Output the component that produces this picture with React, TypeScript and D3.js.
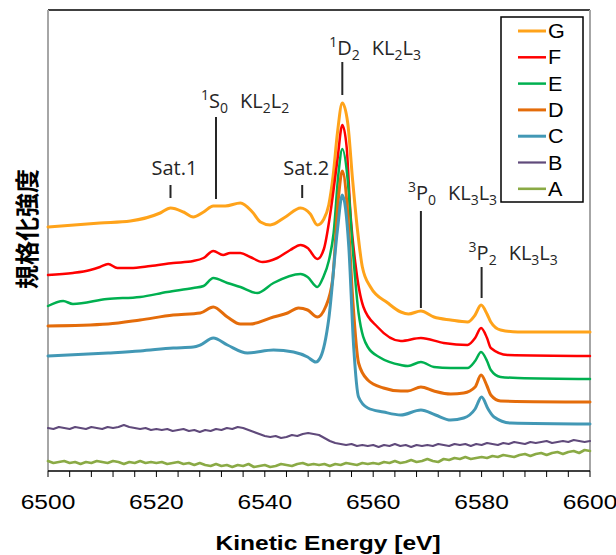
import React from 'react';
import * as d3 from 'd3';

// spectra (energy in eV, normalised intensity, offset per sample)
const seriesG: [number, number][] = [
  [6500, 2.44], [6509.6, 2.48], [6515.2, 2.5], [6520.7, 2.58], [6522.6, 2.63], [6525.0, 2.59],
  [6526.8, 2.54], [6528.7, 2.59], [6530.5, 2.65], [6532.7, 2.65], [6535.5, 2.68], [6537.7, 2.59],
  [6539.2, 2.49], [6541.0, 2.46], [6543.8, 2.54], [6546.6, 2.63], [6548.4, 2.57], [6549.7, 2.46],
  [6550.9, 2.52], [6551.8, 2.66], [6552.6, 2.95], [6553.4, 3.38], [6554.3, 3.68], [6555.3, 3.48],
  [6556.2, 2.91], [6557.1, 2.41], [6558.0, 2.04], [6559.5, 1.84], [6562.7, 1.68], [6565.1, 1.59],
  [6566.5, 1.57], [6568.8, 1.6], [6571.2, 1.54], [6574.3, 1.51], [6577.4, 1.49], [6578.8, 1.56],
  [6579.9, 1.66], [6581.0, 1.57], [6581.7, 1.49], [6583.5, 1.41], [6586.7, 1.39], [6600, 1.39],
];

const seriesF: [number, number][] = [
  [6500, 1.96], [6504.6, 1.98], [6507.8, 2.01], [6509.6, 2.04], [6511.1, 2.07], [6512.8, 2.03],
  [6515.2, 2.03], [6518.9, 2.05], [6523.1, 2.08], [6526.8, 2.1], [6528.7, 2.13], [6530.5, 2.2],
  [6532.3, 2.16], [6533.6, 2.18], [6535.5, 2.18], [6537.3, 2.14], [6539.6, 2.09], [6542.3, 2.13],
  [6544.7, 2.21], [6546.6, 2.26], [6547.9, 2.23], [6549.7, 2.12], [6550.9, 2.22], [6552.1, 2.58],
  [6553.4, 3.11], [6554.3, 3.46], [6555.1, 3.24], [6555.8, 2.58], [6556.7, 2.08], [6558.2, 1.64],
  [6560.8, 1.44], [6565.1, 1.3], [6568.8, 1.33], [6573.0, 1.28], [6577.4, 1.26], [6578.8, 1.33],
  [6579.9, 1.43], [6581.0, 1.33], [6581.7, 1.23], [6584.8, 1.16], [6600, 1.15],
];

const seriesE: [number, number][] = [
  [6500, 1.65], [6502.8, 1.7], [6504.6, 1.67], [6510.9, 1.72], [6517.0, 1.74], [6522.0, 1.79],
  [6526.8, 1.83], [6528.7, 1.85], [6530.5, 1.93], [6533.1, 1.88], [6535.5, 1.84], [6538.6, 1.78],
  [6541.6, 1.88], [6546.6, 1.97], [6547.9, 1.94], [6549.7, 1.84], [6550.8, 1.94], [6551.8, 2.1],
  [6552.7, 2.38], [6553.6, 2.98], [6554.3, 3.22], [6555.3, 2.91], [6556.2, 2.24], [6557.3, 1.58],
  [6559.0, 1.24], [6561.4, 1.13], [6565.1, 1.06], [6566.4, 1.05], [6568.8, 1.09], [6571.2, 1.04],
  [6574.3, 1.03], [6577.4, 1.03], [6578.8, 1.1], [6579.9, 1.19], [6581.0, 1.1], [6581.7, 1.01],
  [6583.5, 0.94], [6586.7, 0.93], [6600, 0.92],
];

const seriesD: [number, number][] = [
  [6500, 1.45], [6511.1, 1.47], [6517.0, 1.51], [6523.1, 1.56], [6528.1, 1.58], [6530.5, 1.64],
  [6533.1, 1.54], [6535.5, 1.47], [6537.3, 1.47], [6541.6, 1.54], [6544.2, 1.58], [6546.2, 1.63],
  [6547.9, 1.61], [6549.7, 1.54], [6551.2, 1.64], [6552.5, 1.91], [6553.6, 2.74], [6554.3, 3.0],
  [6555.3, 2.58], [6556.2, 1.74], [6557.3, 1.08], [6559.0, 0.91], [6561.9, 0.83], [6565.1, 0.8],
  [6566.4, 0.8], [6568.8, 0.84], [6571.2, 0.8], [6574.3, 0.77], [6576.7, 0.78], [6578.8, 0.84],
  [6579.9, 0.96], [6581.0, 0.85], [6581.7, 0.76], [6583.5, 0.7], [6600, 0.69],
];

const seriesC: [number, number][] = [
  [6500, 1.15], [6511.1, 1.18], [6517.0, 1.2], [6523.1, 1.23], [6526.8, 1.24], [6528.1, 1.26],
  [6530.5, 1.33], [6533.1, 1.26], [6536.8, 1.18], [6541.6, 1.21], [6545.3, 1.19], [6547.9, 1.14],
  [6549.4, 1.09], [6550.3, 1.14], [6551.8, 1.52], [6553.4, 2.41], [6554.3, 2.76], [6555.5, 2.24],
  [6556.4, 1.24], [6557.3, 0.74], [6559.0, 0.63], [6561.9, 0.59], [6565.1, 0.56], [6568.8, 0.61],
  [6571.5, 0.56], [6574.3, 0.51], [6576.7, 0.53], [6578.8, 0.62], [6580.0, 0.74], [6581.2, 0.62],
  [6582.3, 0.54], [6585.4, 0.48], [6600, 0.47],
];

// B and A are noisy: one reading per eV from 6500 to 6600
const valuesB = [
  0.43, 0.42, 0.44, 0.43, 0.42, 0.44, 0.43, 0.42, 0.44, 0.43,
  0.42, 0.44, 0.43, 0.44, 0.46, 0.44, 0.43, 0.42, 0.43, 0.41,
  0.42, 0.41, 0.42, 0.4, 0.41, 0.42, 0.4, 0.41, 0.39, 0.41,
  0.4, 0.42, 0.41, 0.43, 0.42, 0.44, 0.43, 0.41, 0.39, 0.37,
  0.35, 0.34, 0.35, 0.33, 0.34, 0.36, 0.35, 0.37, 0.38, 0.37,
  0.36, 0.33, 0.3, 0.28, 0.27, 0.26, 0.27, 0.25, 0.26, 0.25,
  0.26, 0.24, 0.26, 0.25, 0.27, 0.25, 0.26, 0.24, 0.26, 0.25,
  0.26, 0.25, 0.27, 0.26, 0.25, 0.27, 0.26, 0.27, 0.25, 0.27,
  0.26, 0.28, 0.27, 0.26, 0.28, 0.27, 0.29, 0.28, 0.27, 0.29,
  0.28, 0.29, 0.3, 0.28, 0.29, 0.3, 0.29, 0.31, 0.3, 0.29, 0.3,
];

const valuesA = [
  0.1, 0.08, 0.09, 0.1, 0.08, 0.09, 0.07, 0.09, 0.08, 0.1,
  0.09, 0.08, 0.1, 0.09, 0.07, 0.09, 0.08, 0.1, 0.08, 0.09,
  0.08, 0.09, 0.07, 0.08, 0.09, 0.07, 0.08, 0.06, 0.08, 0.06,
  0.05, 0.07, 0.05, 0.06, 0.04, 0.06, 0.05, 0.07, 0.04, 0.05,
  0.06, 0.04, 0.05, 0.07, 0.06, 0.05, 0.07, 0.08, 0.06, 0.07,
  0.06, 0.07, 0.05, 0.07, 0.06, 0.08, 0.07, 0.06, 0.08, 0.07,
  0.08, 0.07, 0.09, 0.08, 0.1, 0.08, 0.09, 0.11, 0.09, 0.1,
  0.12, 0.1, 0.09, 0.12, 0.11, 0.13, 0.12, 0.14, 0.12, 0.13,
  0.14, 0.13, 0.15, 0.14, 0.16, 0.15, 0.14, 0.16, 0.17, 0.15,
  0.17, 0.18, 0.16, 0.18, 0.19, 0.17, 0.19, 0.2, 0.18, 0.21, 0.2,
];

const energyGrid = d3.range(6500, 6601, 1);

const legendKeys = ['G', 'F', 'E', 'D', 'C', 'B', 'A'];
const colors: Record<string, string> = {
  G: '#FFA31A', F: '#FF0000', E: '#00B050', D: '#E46C0A', C: '#4298B5', B: '#604A7B', A: '#8AAA45',
};
const widths: Record<string, number> = { G: 3, F: 2.5, E: 2.5, D: 3, C: 3, B: 2.2, A: 2.6 };

const xTicks = d3.range(6500, 6601, 4);
const xLabels = [6500, 6520, 6540, 6560, 6580, 6600];

type Part = { t: string; k: 'n' | 'sup' | 'sub'; gap?: boolean };
// peak markers: energy, line top/bottom (intensity), label
const annotations: { e: number; top: number; bottom: number; textY: number; dx: number; anchor: string; parts: Part[] }[] = [
  { e: 6522.6, top: 2.86, bottom: 2.73, textY: 2.96, dx: 4, anchor: 'middle', parts: [{ t: 'Sat.1', k: 'n' }] },
  {
    e: 6531.0, top: 3.54, bottom: 2.72, textY: 3.63, dx: -15, anchor: 'start',
    parts: [{ t: '1', k: 'sup' }, { t: 'S', k: 'n' }, { t: '0', k: 'sub' }, { t: 'KL', k: 'n', gap: true }, { t: '2', k: 'sub' }, { t: 'L', k: 'n' }, { t: '2', k: 'sub' }],
  },
  { e: 6546.9, top: 2.86, bottom: 2.73, textY: 2.96, dx: 4, anchor: 'middle', parts: [{ t: 'Sat.2', k: 'n' }] },
  {
    e: 6554.3, top: 4.09, bottom: 3.76, textY: 4.16, dx: -13, anchor: 'start',
    parts: [{ t: '1', k: 'sup' }, { t: 'D', k: 'n' }, { t: '2', k: 'sub' }, { t: 'KL', k: 'n', gap: true }, { t: '2', k: 'sub' }, { t: 'L', k: 'n' }, { t: '3', k: 'sub' }],
  },
  {
    e: 6568.8, top: 2.6, bottom: 1.63, textY: 2.71, dx: -13, anchor: 'start',
    parts: [{ t: '3', k: 'sup' }, { t: 'P', k: 'n' }, { t: '0', k: 'sub' }, { t: 'KL', k: 'n', gap: true }, { t: '3', k: 'sub' }, { t: 'L', k: 'n' }, { t: '3', k: 'sub' }],
  },
  {
    e: 6580.0, top: 2.04, bottom: 1.73, textY: 2.11, dx: -13, anchor: 'start',
    parts: [{ t: '3', k: 'sup' }, { t: 'P', k: 'n' }, { t: '2', k: 'sub' }, { t: 'KL', k: 'n', gap: true }, { t: '3', k: 'sub' }, { t: 'L', k: 'n' }, { t: '3', k: 'sub' }],
  },
];

const W = 616;
const H = 555;
const plot = { left: 48, right: 590, top: 10, bottom: 471 };
const stretch = 1.17; // the original text is drawn slightly wide

const PeakLabel: React.FC<{ x: number; y: number; anchor: string; parts: Part[] }> = ({ x, y, anchor, parts }) => {
  let shift = 0;
  return (
    <text x={x} y={y} textAnchor={anchor} fontFamily="'Open Sans', sans-serif" fontSize={20} fill="#262626">
      {parts.map((p, i) => {
        const target = p.k === 'sup' ? -8 : p.k === 'sub' ? 5 : 0;
        const dy = target - shift;
        shift = target;
        return (
          <tspan key={i} dy={dy} dx={p.gap ? 12 : 0} fontSize={p.k === 'n' ? 20 : 14}>
            {p.t}
          </tspan>
        );
      })}
    </text>
  );
};

const App: React.FC = () => {
  const x = d3.scaleLinear().domain([6500, 6600]).range([plot.left, plot.right]);
  const y = d3.scaleLinear().domain([0, 4.61]).range([plot.bottom, plot.top]);

  const smooth = d3.line<[number, number]>()
    .x(d => x(d[0]))
    .y(d => y(d[1]))
    .curve(d3.curveMonotoneX);
  const jagged = d3.line<[number, number]>()
    .x(d => x(d[0]))
    .y(d => y(d[1]));

  const series: { key: string; d: string }[] = [
    { key: 'G', d: smooth(seriesG) || '' },
    { key: 'F', d: smooth(seriesF) || '' },
    { key: 'E', d: smooth(seriesE) || '' },
    { key: 'D', d: smooth(seriesD) || '' },
    { key: 'C', d: smooth(seriesC) || '' },
    { key: 'B', d: jagged(energyGrid.map((e, i) => [e, valuesB[i]] as [number, number])) || '' },
    { key: 'A', d: jagged(energyGrid.map((e, i) => [e, valuesA[i]] as [number, number])) || '' },
  ];

  return (
    <svg width={W} height={H} style={{ position: 'absolute', left: 0, top: 0, background: '#fff' }}>
      {/* frame */}
      <line x1={plot.left} x2={plot.right} y1={plot.top} y2={plot.top} stroke="#000" strokeWidth={1.5} />
      <line x1={plot.left} x2={plot.left} y1={plot.top} y2={plot.bottom} stroke="#A6A6A6" strokeWidth={2} />
      <line x1={plot.right} x2={plot.right} y1={plot.top} y2={plot.bottom} stroke="#A6A6A6" strokeWidth={2} />

      {/* series */}
      {series.map(s => (
        <path key={s.key} d={s.d} fill="none" stroke={colors[s.key]} strokeWidth={widths[s.key]}
          strokeLinejoin="round" strokeLinecap="round" />
      ))}

      {/* x axis */}
      <line x1={plot.left} x2={plot.right} y1={plot.bottom} y2={plot.bottom} stroke="#000" strokeWidth={1.5} />
      {xTicks.map(t => (
        <line key={t} x1={x(t)} x2={x(t)} y1={plot.bottom} y2={plot.bottom + 6} stroke="#000" strokeWidth={1} />
      ))}
      {xLabels.map(t => (
        <text key={t} transform={`translate(${x(t)},509) scale(${stretch},1)`} textAnchor="middle"
          fontFamily="'Liberation Sans', Arial, sans-serif" fontSize={21} fill="#000">
          {t}
        </text>
      ))}
      <text transform={`translate(${(plot.left + plot.right) / 2 + 9},550) scale(${stretch},1)`} textAnchor="middle"
        fontFamily="'Liberation Sans', Arial, sans-serif" fontSize={21} fontWeight="bold" fill="#000">
        Kinetic Energy [eV]
      </text>
      <text transform="translate(25,229) rotate(-90)" textAnchor="middle" dominantBaseline="central"
        fontFamily="'Noto Sans CJK JP', sans-serif" fontSize={24} fontWeight="bold" fill="#000">
        規格化強度
      </text>

      {/* peak annotations */}
      {annotations.map((a, i) => (
        <g key={i}>
          <line x1={x(a.e)} x2={x(a.e)} y1={y(a.top)} y2={y(a.bottom)} stroke="#262626" strokeWidth={2} />
          <PeakLabel x={x(a.e) + a.dx} y={y(a.textY)} anchor={a.anchor} parts={a.parts} />
        </g>
      ))}

      {/* legend */}
      <rect x={501} y={17} width={82} height={185} fill="#fff" stroke="#000" strokeWidth={1.5} />
      {legendKeys.map((k, i) => {
        const ly = 31 + i * 26.3;
        return (
          <g key={k}>
            <line x1={518} x2={546} y1={ly} y2={ly} stroke={colors[k]} strokeWidth={widths[k]} />
            <text transform={`translate(548,${ly + 7}) scale(1.08,1)`} fontFamily="'Liberation Sans', Arial, sans-serif"
              fontSize={20} fill="#000">{k}</text>
          </g>
        );
      })}
    </svg>
  );
};

export default App;
